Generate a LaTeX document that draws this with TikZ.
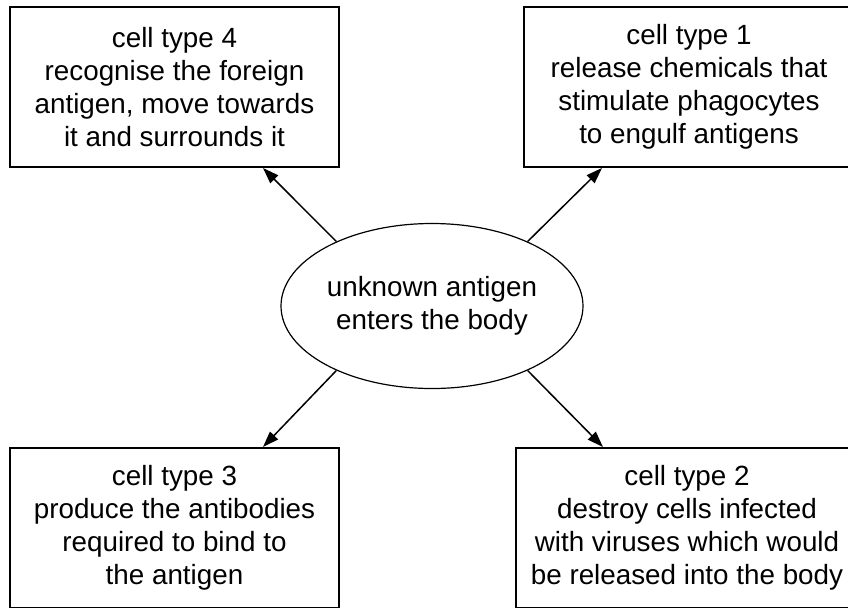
\documentclass[tikz,border=0pt]{standalone}
\usepackage{fontspec}
\setmainfont{Liberation Sans}
\usetikzlibrary{shapes.geometric,arrows.meta}
\begin{document}
\begin{tikzpicture}[
            x=0.5pt,
            y=-0.5pt,
            cellbox/.style={draw, line width=1pt, minimum height=80pt, inner sep=0pt,
                align=center, font=\fontsize{13.9}{16.5}\selectfont},
            bubble/.style={ellipse, draw, line width=0.6pt, minimum width=151pt,
                minimum height=82.5pt, inner sep=0pt, align=center,
                font=\fontsize{13.9}{16.5}\selectfont},
            link/.style={-{Triangle[length=8pt,width=5.5pt]}, line width=0.75pt}
        ]
        \useasboundingbox (0,0) rectangle (848,607);
        \clip (0,0) rectangle (848,607);
        \coordinate (C) at (432,306);
        \coordinate (P4) at (174.5,87);
        \coordinate (P1) at (689,87);
        \coordinate (P3) at (174.5,528);
        \coordinate (P2) at (687,528);

        \node[bubble] (entry) at (C) {unknown antigen\\enters the body};
        \node[cellbox, minimum width=164.5pt] (type4) at (P4)
            {cell type 4\\recognise the foreign\\antigen, move towards\\it and surrounds it};
        \node[cellbox, minimum width=165pt] (type1) at (P1)
            {cell type 1\\release chemicals that\\stimulate phagocytes\\to engulf antigens};
        \node[cellbox, minimum width=164.5pt] (type3) at (P3)
            {cell type 3\\produce the antibodies\\required to bind to\\the antigen};
        \node[cellbox, minimum width=171pt] (type2) at (P2)
            {cell type 2\\destroy cells infected\\with viruses which would\\be released into the body};

        \draw[link] (entry.146) -- ([xshift=44.25pt]type4.south);
        \draw[link] (entry.34) -- ([xshift=-43.5pt]type1.south);
        \draw[link] (entry.214) -- ([xshift=44.25pt]type3.north);
        \draw[link] (entry.326) -- ([xshift=-42pt]type2.north);
    \end{tikzpicture}
\end{document}
